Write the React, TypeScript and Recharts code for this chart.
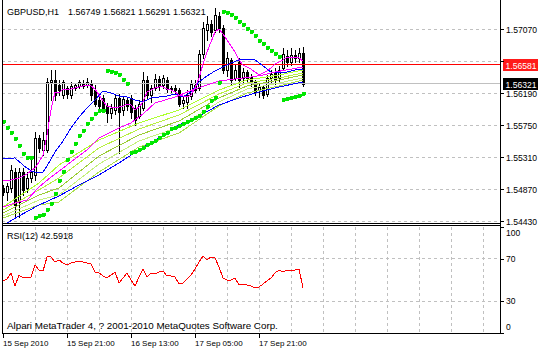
import React from 'react';
import { ComposedChart, Bar, Line, Scatter, XAxis, YAxis, CartesianGrid, ReferenceLine } from 'recharts';

const symbol = 'GBPUSD';
const timeframe = 'H1';
const rsiPeriod = 12;
const askPrice = 1.56581;
const copyright = 'Alpari MetaTrader 4, ? 2001-2010 MetaQuotes Software Corp.';

const opens = [
  1.54888, 1.54833, 1.54888, 1.55108, 1.54696, 1.55108, 1.54888, 1.55026, 1.55067, 1.55576,
  1.55411, 1.55411, 1.56346, 1.56373, 1.56304, 1.56167, 1.56263, 1.56167, 1.56263, 1.56291,
  1.56332, 1.56304, 1.56332, 1.56236, 1.56098, 1.56126, 1.56016, 1.55919, 1.55961, 1.56126,
  1.55961, 1.56098, 1.56126, 1.55988, 1.55878, 1.55988, 1.56373, 1.56167, 1.56263, 1.56387,
  1.56304, 1.56373, 1.56249, 1.56263, 1.56236, 1.56057, 1.56071, 1.56153, 1.56304, 1.56263,
  1.56731, 1.57061, 1.57143, 1.57061, 1.57253, 1.57088, 1.56511, 1.56648, 1.56401, 1.56621,
  1.56401, 1.56483, 1.56414, 1.56346, 1.56236, 1.56277, 1.56181, 1.56401, 1.56483, 1.56401,
  1.56538, 1.56703, 1.56621, 1.56717, 1.56676, 1.56749,
];
const highs = [
  1.54929, 1.54957, 1.55204, 1.55163, 1.55163, 1.55163, 1.55108, 1.55273, 1.55658, 1.55617,
  1.55658, 1.56401, 1.56511, 1.56511, 1.56373, 1.56373, 1.56291, 1.56346, 1.56332, 1.56373,
  1.56373, 1.56401, 1.56373, 1.56304, 1.56153, 1.56167, 1.56057, 1.56043, 1.56167, 1.56181,
  1.56153, 1.56139, 1.56167, 1.56029, 1.56098, 1.56483, 1.56428, 1.56304, 1.56456, 1.56428,
  1.56442, 1.56414, 1.56291, 1.56304, 1.56263, 1.56153, 1.56236, 1.56373, 1.56373, 1.56786,
  1.57171, 1.57253, 1.57198, 1.57363, 1.57308, 1.57129, 1.56758, 1.56676, 1.56579, 1.56676,
  1.56538, 1.56511, 1.56456, 1.56373, 1.56318, 1.56304, 1.56442, 1.56511, 1.56538, 1.56566,
  1.56813, 1.56786, 1.56813, 1.56786, 1.56813, 1.56821,
];
const lows = [
  1.54792, 1.54723, 1.54833, 1.54489, 1.54489, 1.54792, 1.54833, 1.54971, 1.54998, 1.55383,
  1.55342, 1.55383, 1.56098, 1.56098, 1.56167, 1.56126, 1.56126, 1.56126, 1.56236, 1.56263,
  1.56263, 1.56277, 1.56098, 1.56016, 1.55988, 1.55933, 1.55796, 1.55851, 1.55906, 1.55369,
  1.55892, 1.55961, 1.55851, 1.55754, 1.55851, 1.55961, 1.56126, 1.56071, 1.56236, 1.56236,
  1.56263, 1.56208, 1.56208, 1.56194, 1.56016, 1.55988, 1.55988, 1.56112, 1.56208, 1.56236,
  1.56676, 1.56923, 1.56978, 1.57033, 1.57033, 1.56469, 1.56428, 1.56318, 1.56373, 1.56277,
  1.56346, 1.56332, 1.56291, 1.56167, 1.56139, 1.56126, 1.56153, 1.56346, 1.56318, 1.56346,
  1.56511, 1.56566, 1.56579, 1.56621, 1.56621, 1.56291,
];
const closes = [
  1.54833, 1.54916, 1.55136, 1.54654, 1.55108, 1.54861, 1.55026, 1.55108, 1.55576, 1.55438,
  1.55548, 1.56346, 1.56373, 1.56167, 1.56236, 1.56346, 1.56181, 1.56291, 1.56304, 1.56346,
  1.56291, 1.56346, 1.56167, 1.56043, 1.56016, 1.55961, 1.55919, 1.55988, 1.56126, 1.55933,
  1.56112, 1.56016, 1.55933, 1.55823, 1.56043, 1.56373, 1.56167, 1.56263, 1.56387, 1.56291,
  1.56401, 1.56249, 1.56263, 1.56236, 1.56043, 1.56098, 1.56167, 1.56318, 1.56236, 1.56731,
  1.57088, 1.57143, 1.57033, 1.57267, 1.57088, 1.56511, 1.56676, 1.56373, 1.56511, 1.56373,
  1.56483, 1.56401, 1.56346, 1.56208, 1.56277, 1.56167, 1.56401, 1.56456, 1.56373, 1.56511,
  1.56731, 1.56621, 1.56717, 1.56676, 1.56744, 1.56321,
];

// fast moving average (magenta), one value per bar
const maFast = [
  1.54998, 1.54998, 1.54998, 1.55012, 1.55026, 1.55053, 1.55081, 1.55122, 1.55163, 1.55246,
  1.55342, 1.55617, 1.55961, 1.56208, 1.56194, 1.56249, 1.56236, 1.56249, 1.56263, 1.56277,
  1.56291, 1.56304, 1.56291, 1.56249, 1.56167, 1.56084, 1.56016, 1.56002, 1.55988, 1.56002,
  1.56016, 1.56043, 1.56029, 1.55961, 1.56002, 1.56071, 1.56208, 1.56236, 1.56263, 1.56277,
  1.56277, 1.56249, 1.56236, 1.56208, 1.56167, 1.56153, 1.56139, 1.56167, 1.56263, 1.56401,
  1.56593, 1.56758, 1.56896, 1.57033, 1.57074, 1.57006, 1.56923, 1.56841, 1.56758, 1.56648,
  1.56579, 1.56552, 1.56524, 1.56483, 1.56442, 1.56469, 1.56497, 1.56538, 1.56593, 1.56621,
  1.56648, 1.56689, 1.56689, 1.56689, 1.56676, 1.56634,
];

// RSI(12), one value per bar
const rsi = [
  49.1, 50.9, 56.6, 44.3, 54.7, 51.9, 52.8, 52.8, 64.2, 59.4,
  58.5, 71.7, 71.7, 67.0, 68.9, 66.0, 64.2, 66.0, 67.0, 67.0,
  67.0, 66.0, 65.1, 57.5, 56.6, 53.8, 51.9, 54.7, 57.5, 47.2,
  51.9, 56.6, 50.0, 44.3, 52.8, 60.4, 52.8, 56.6, 55.7, 57.5,
  58.5, 53.8, 53.8, 52.8, 46.2, 47.2, 50.9, 54.7, 60.4, 67.0,
  72.6, 68.9, 71.7, 70.8, 62.3, 51.9, 50.0, 50.0, 51.9, 45.3,
  45.3, 45.3, 44.3, 42.5, 43.4, 46.2, 49.1, 51.9, 56.6, 59.4,
  57.5, 59.4, 59.4, 59.4, 60.4, 42.5918,
];

// slower averages, [bar index, value]
const maMagentaSlow: [number, number][] = [
  [0, 1.54627], [3, 1.54682], [6, 1.54723], [9, 1.54902], [12, 1.55039], [16, 1.55204],
  [21, 1.55411], [24, 1.55576], [29, 1.55713], [32, 1.55782], [35, 1.55906], [38, 1.56057],
  [43, 1.56139], [48, 1.56249], [54, 1.56359], [58, 1.56387], [62, 1.56414], [65, 1.56442],
  [68, 1.56483], [75, 1.56552],
];
const maBlueFast: [number, number][] = [
  [0, 1.55287], [3, 1.55301], [5, 1.55204], [7, 1.55122], [9, 1.55094], [10, 1.55108],
  [11, 1.55191], [13, 1.55383], [15, 1.55534], [17, 1.55713], [19, 1.55864], [21, 1.55988],
  [23, 1.56098], [25, 1.56222], [27, 1.56194], [29, 1.56153], [31, 1.56139], [33, 1.56098],
  [35, 1.56071], [37, 1.56126], [39, 1.56139], [41, 1.56153], [43, 1.56181], [45, 1.56139],
  [47, 1.56208], [49, 1.56346], [51, 1.56428], [53, 1.56497], [55, 1.56552], [57, 1.56607],
  [59, 1.56648], [61, 1.56662], [63, 1.56648], [65, 1.56566], [67, 1.56483], [69, 1.56469],
  [71, 1.56483], [73, 1.56511], [75, 1.56511],
];
const maBlueSlow: [number, number][] = [
  [1, 1.54407], [4, 1.54503], [9, 1.54654], [14, 1.54778], [19, 1.54929], [24, 1.55067],
  [29, 1.55232], [34, 1.55411], [39, 1.55576], [44, 1.55754], [49, 1.55878], [54, 1.56029],
  [59, 1.56126], [64, 1.56208], [69, 1.56277], [75, 1.56346],
];
const ribbonBars = [0, 9, 14, 24, 34, 44, 54, 61, 69, 75];
const ribbon1 = [1.54627, 1.54957, 1.55204, 1.55548, 1.55782, 1.55961, 1.56236, 1.56373, 1.56442, 1.56511];
const ribbon2 = [1.54586, 1.54861, 1.55026, 1.55438, 1.55699, 1.55892, 1.56181, 1.56332, 1.56401, 1.56469];
const ribbon3 = [1.54544, 1.54792, 1.54888, 1.55328, 1.55617, 1.55809, 1.56126, 1.56291, 1.56373, 1.56442];
const ribbon4 = [1.54503, 1.54723, 1.54792, 1.55218, 1.55534, 1.55727, 1.56071, 1.56249, 1.56332, 1.56401];
const ribbon5 = [1.54476, 1.54654, 1.54696, 1.55108, 1.55452, 1.55644, 1.56016, 1.56194, 1.56291, 1.56373];

// parabolic SAR, [bar index, value]
const sar: [number, number][] = [
  [0, 1.55809], [1, 1.55727], [2, 1.55658], [3, 1.55576], [4, 1.55479], [5, 1.55369], [6, 1.55314], [7, 1.55314],
  [8, 1.54489], [9, 1.54517], [10, 1.54531], [11, 1.54599], [12, 1.54682], [13, 1.54819], [14, 1.54998], [15, 1.55122],
  [16, 1.55287], [17, 1.55397], [18, 1.55507], [19, 1.55617], [20, 1.55686], [21, 1.55782], [22, 1.55851], [23, 1.55919],
  [24, 1.55961], [25, 1.55961],
  [26, 1.56511], [27, 1.56497], [28, 1.56483], [29, 1.56456], [30, 1.56387], [31, 1.56332],
  [32, 1.55383], [33, 1.55397], [34, 1.55424], [35, 1.55452], [36, 1.55493], [37, 1.55521], [38, 1.55548], [39, 1.55589],
  [40, 1.55631], [41, 1.55658], [42, 1.55713], [43, 1.55727], [44, 1.55754], [45, 1.55782], [46, 1.55809], [47, 1.55837],
  [48, 1.55864], [49, 1.55892], [50, 1.55947], [51, 1.56016], [52, 1.56098], [53, 1.56139], [54, 1.56346],
  [55, 1.57322], [56, 1.57308], [57, 1.57281], [58, 1.57239], [59, 1.57184], [60, 1.57143], [61, 1.57088], [62, 1.57047],
  [63, 1.56992], [64, 1.56923], [65, 1.56882], [66, 1.56827], [67, 1.56786], [68, 1.56744], [69, 1.56703],
  [70, 1.56112], [71, 1.56126], [72, 1.56139], [73, 1.56153], [74, 1.56167], [75, 1.56194],
];

const priceTicks = [1.5443, 1.5487, 1.5531, 1.5575, 1.5619, 1.5663, 1.5707];
const rsiTicks = [0, 30, 70, 100];
const rsiGridLevels = [30, 70];
const gridBars = [8, 16, 24, 32, 40, 48, 56, 64, 72, 80, 88, 96, 104, 112, 120];
const timeTicks = [0, 16, 32, 48, 64];
const timeLabels = ['15 Sep 2010', '15 Sep 21:00', '16 Sep 13:00', '17 Sep 05:00', '17 Sep 21:00'];

const X_DOMAIN: [number, number] = [-0.25, 124.25];
const PRICE_DOMAIN: [number, number] = [1.54393, 1.57473];
const FONT = "'Liberation Sans', Arial, sans-serif";
const GRID = '#c0c0c0';
const AXIS_FONT = 8.6;

const rows = opens.map((o, i) => ({
  i,
  open: o,
  high: highs[i],
  low: lows[i],
  close: closes[i],
  range: [lows[i], highs[i]],
  maFast: maFast[i],
  rsi: rsi[i],
}));
const toPts = (arr: [number, number][]) => arr.map(([i, v]) => ({ i, v }));
const ribbonPts = (vals: number[]) => ribbonBars.map((i, k) => ({ i, v: vals[k] }));

const Candle = (props: any) => {
  const { x, width, payload } = props;
  let { y, height } = props;
  if (height < 0) { y += height; height = -height; }
  const { open, close, high, low } = payload;
  const cx = Math.round(x + width / 2);
  const k = high - low > 0 ? height / (high - low) : 0;
  const yOf = (v: number) => Math.round(y + (high - v) * k);
  const top = yOf(Math.max(open, close));
  const bot = yOf(Math.min(open, close));
  const bull = close >= open;
  return (
    <g>
      <line x1={cx + 0.5} x2={cx + 0.5} y1={yOf(high)} y2={yOf(low) + 1} stroke="#000" />
      {bull ? (
        <rect x={cx - 0.5} y={top + 0.5} width={2} height={Math.max(bot - top, 1)} fill="#fff" stroke="#000" />
      ) : (
        <rect x={cx - 1} y={top} width={3} height={Math.max(bot - top + 1, 1)} fill="#000" />
      )}
    </g>
  );
};

const SarDot = (props: any) => {
  const { cx, cy } = props;
  if (cx == null || cy == null) return null;
  return <rect x={Math.round(cx) - 1.5} y={Math.round(cy) - 1.5} width={4} height={4} rx={0.8} fill="#00e600" />;
};

const PriceTick = (props: any) => {
  const { x, y, payload } = props;
  const v = payload.value as number;
  const yy = Math.round(y) + 0.5;
  const covered = Math.abs(v - askPrice) < 0.0008;
  return (
    <g>
      <line x1={x} x2={x + 4} y1={yy} y2={yy} stroke="#000" />
      {!covered && (
        <text x={x + 6} y={y + 3.2} fontSize={AXIS_FONT} fontFamily={FONT} fill="#000">{v.toFixed(5)}</text>
      )}
    </g>
  );
};

const RsiTick = (props: any) => {
  const { x, y, payload } = props;
  const v = payload.value as number;
  const yy = Math.round(y) + 0.5;
  const dy = v === 100 ? 8.5 : v === 0 ? -3 : 3;
  return (
    <g>
      <line x1={x} x2={x + 4} y1={yy} y2={yy} stroke="#000" />
      <text x={x + 6} y={y + dy} fontSize={8.5} fontFamily={FONT} fill="#000">{String(v)}</text>
    </g>
  );
};

const TimeTick = (props: any) => {
  const { x, y, payload } = props;
  const idx = timeTicks.indexOf(payload.value);
  const xx = Math.round(x);
  return (
    <g>
      <line x1={xx + 0.5} x2={xx + 0.5} y1={y} y2={y + 5} stroke="#000" />
      <text x={xx} y={y + 13} fontSize={8} fontFamily={FONT} fill="#000">{timeLabels[idx]}</text>
    </g>
  );
};

const PriceBox = (color: string, price: number) => (props: any) => {
  const vb = props.viewBox || {};
  const bx = vb.x + vb.width + 3;
  const by = Math.round(vb.y) - 6;
  return (
    <g>
      <rect x={bx} y={by} width={35} height={12} fill={color} />
      <text x={bx + 2.5} y={by + 9.5} fontSize={AXIS_FONT} fontFamily={FONT} fill="#fff">{price.toFixed(5)}</text>
    </g>
  );
};

export default function App() {
  const last = opens.length - 1;
  const header = `${opens[last].toFixed(5)} ${highs[last].toFixed(5)} ${lows[last].toFixed(5)} ${closes[last].toFixed(5)}`;
  const bid = closes[last];
  return (
    <div style={{ position: 'absolute', left: 0, top: 0, width: 538, height: 351, background: '#fff', overflow: 'hidden', shapeRendering: 'crispEdges' } as any}>
      <style>{'.recharts-surface { overflow: visible; }'}</style>
      <div style={{ position: 'absolute', left: 0, top: 0 }}>
        <ComposedChart width={538} height={224} data={rows} margin={{ top: 0, right: 0, bottom: 0, left: 2 }}>
          <CartesianGrid stroke={GRID} strokeDasharray="3 3" horizontalValues={priceTicks} verticalValues={gridBars} />
          <XAxis type="number" dataKey="i" domain={X_DOMAIN} allowDataOverflow height={0} tick={false} axisLine={false} tickLine={false} />
          <YAxis orientation="right" width={38} domain={PRICE_DOMAIN} allowDataOverflow ticks={priceTicks} interval={0}
            tick={PriceTick} tickLine={false} axisLine={false} tickSize={0} tickMargin={0} />
          <ReferenceLine y={bid} stroke="#c0c0c0" label={PriceBox('#000', bid)} />
          <ReferenceLine y={askPrice} stroke="#ff0000" label={PriceBox('#ff1a1a', askPrice)} />
          <Bar dataKey="range" barSize={3} shape={(p: any) => <Candle {...p} />} isAnimationActive={false} />
          <Line data={ribbonPts(ribbon5)} dataKey="v" stroke="#a8e048" dot={false} isAnimationActive={false} />
          <Line data={ribbonPts(ribbon4)} dataKey="v" stroke="#c4f07c" dot={false} isAnimationActive={false} />
          <Line data={ribbonPts(ribbon3)} dataKey="v" stroke="#9acd32" dot={false} isAnimationActive={false} />
          <Line data={ribbonPts(ribbon2)} dataKey="v" stroke="#b8f040" dot={false} isAnimationActive={false} />
          <Line data={ribbonPts(ribbon1)} dataKey="v" stroke="#adff2f" dot={false} isAnimationActive={false} />
          <Line data={toPts(maBlueSlow)} dataKey="v" stroke="#0000ff" dot={false} isAnimationActive={false} />
          <Line data={toPts(maBlueFast)} dataKey="v" stroke="#0000ff" dot={false} isAnimationActive={false} />
          <Line data={toPts(maMagentaSlow)} dataKey="v" stroke="#ff00ff" dot={false} isAnimationActive={false} />
          <Line dataKey="maFast" stroke="#ff00ff" dot={false} isAnimationActive={false} />
          <Scatter data={toPts(sar)} dataKey="v" shape={(p: any) => <SarDot {...p} />} isAnimationActive={false} />
        </ComposedChart>
      </div>
      <div style={{ position: 'absolute', left: 0, top: 227 }}>
        <ComposedChart width={538} height={130} data={rows} margin={{ top: 0, right: 0, bottom: 0, left: 2 }}>
          <CartesianGrid stroke={GRID} strokeDasharray="3 3" horizontalValues={rsiGridLevels} verticalValues={gridBars} />
          <XAxis type="number" dataKey="i" domain={X_DOMAIN} allowDataOverflow ticks={timeTicks} interval={0} height={24}
            tick={TimeTick} tickLine={false} axisLine={false} tickSize={0} tickMargin={0} />
          <YAxis orientation="right" width={38} domain={[0, 100]} ticks={rsiTicks} interval={0}
            tick={RsiTick} tickLine={false} axisLine={false} tickSize={0} tickMargin={0} />
          <Line dataKey="rsi" stroke="#ff0000" dot={false} isAnimationActive={false} />
        </ComposedChart>
      </div>
      <svg width={538} height={351} style={{ position: 'absolute', left: 0, top: 0, pointerEvents: 'none' }}>
        <line x1={2.5} x2={2.5} y1={0} y2={334} stroke="#000" />
        <line x1={500.5} x2={500.5} y1={0} y2={334} stroke="#000" />
        <line x1={2} x2={501} y1={223.5} y2={223.5} stroke="#000" />
        <line x1={2} x2={501} y1={225.5} y2={225.5} stroke="#000" />
        <line x1={2} x2={501} y1={333.5} y2={333.5} stroke="#000" />
        <text x={7} y={15} fontSize={9} fontFamily={FONT} fill="#000">{`${symbol},${timeframe}`}</text>
        <text x={68} y={15} fontSize={9} fontFamily={FONT} fill="#000">{header}</text>
        <text x={7} y={239} fontSize={9} fontFamily={FONT} fill="#000">{`RSI(${rsiPeriod}) ${rsi[last].toFixed(4)}`}</text>
        <text x={7} y={329} fontSize={9.8} fontFamily={FONT} fill="#000">{copyright}</text>
      </svg>
    </div>
  );
}
